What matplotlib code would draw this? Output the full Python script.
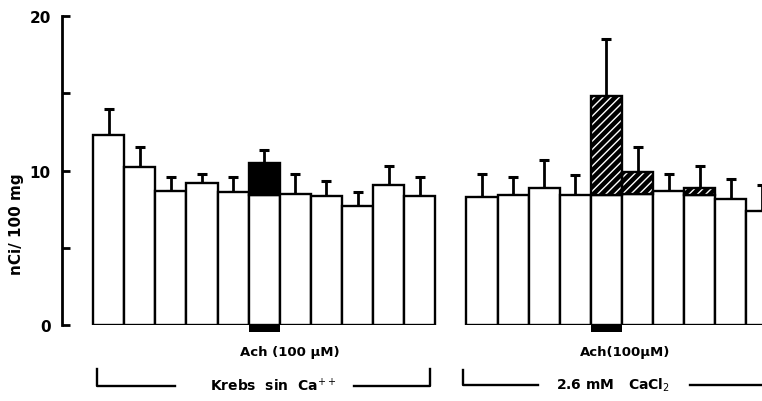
import numpy as np
import matplotlib.pyplot as plt

# Krebs sin Ca++ (11 bars), 2.6 mM CaCl2 (11 bars, last one cut off at the border)
krebs_base = [12.3, 10.2, 8.7, 9.2, 8.6, 8.4, 8.5, 8.35, 7.7, 9.05, 8.35]
krebs_extra = [0, 0, 0, 0, 0, 2.1, 0, 0, 0, 0, 0]          # black part (Ach)
krebs_err = [14.0, 11.5, 9.6, 9.8, 9.6, 11.3, 9.8, 9.3, 8.6, 10.3, 9.6]

cacl_base = [8.3, 8.4, 8.9, 8.4, 8.4, 8.5, 8.7, 8.4, 8.15, 7.4, 7.4]
cacl_extra = [0, 0, 0, 0, 6.4, 1.4, 0, 0.45, 0, 0, 0]      # hatched part (Ach)
cacl_err = [9.8, 9.6, 10.7, 9.7, 18.5, 11.5, 9.8, 10.3, 9.45, 9.05, 9.05]

yticks = [0, 5, 10, 15, 20]
ytick_labels = ['0', '', '10', '', '20']

plt.rcParams['font.family'] = 'DejaVu Sans'

fig = plt.figure(figsize=(7.62, 4.02), dpi=100)
ax = fig.add_axes([0.0814, 0.189, 0.9186, 0.7687])

x_krebs = np.arange(len(krebs_base))
x_cacl = np.arange(len(cacl_base)) + 12

lw = 1.7
for x, base, extra, err in zip(x_krebs, krebs_base, krebs_extra, krebs_err):
    ax.bar(x, base, width=1, align='edge', facecolor='white', edgecolor='black', linewidth=lw, zorder=2)
    if extra > 0:
        ax.bar(x, extra, bottom=base, width=1, align='edge', facecolor='black', edgecolor='black', linewidth=lw, zorder=2)
    top = base + extra
    ax.errorbar(x + 0.5, top, yerr=[[0], [err - top]], fmt='none', ecolor='black', elinewidth=2, capsize=3.8, capthick=2.2, zorder=1)

for x, base, extra, err in zip(x_cacl, cacl_base, cacl_extra, cacl_err):
    ax.bar(x, base, width=1, align='edge', facecolor='white', edgecolor='black', linewidth=lw, zorder=2)
    if extra > 0:
        # white hatch lines on black
        ax.bar(x, extra, bottom=base, width=1, align='edge', facecolor='black', edgecolor='white', hatch='////', linewidth=0, zorder=2)
        ax.bar(x, extra, bottom=base, width=1, align='edge', facecolor='none', edgecolor='black', linewidth=lw, zorder=3)
    top = base + extra
    ax.errorbar(x + 0.5, top, yerr=[[0], [err - top]], fmt='none', ecolor='black', elinewidth=2, capsize=3.8, capthick=2.2, zorder=1)

# Ach application markers under the axis
ax.bar(5, -0.45, width=1, align='edge', color='black', clip_on=False)
ax.bar(16, -0.45, width=1, align='edge', color='black', clip_on=False)

ax.set_xlim(-1, 21.5)
ax.set_ylim(0, 20)
for s in ['top', 'right', 'bottom']:
    ax.spines[s].set_visible(False)
ax.spines['left'].set_linewidth(2)
ax.set_xticks([])
ax.set_yticks(yticks)
ax.set_yticklabels(ytick_labels, fontsize=11, fontweight='bold')
ax.tick_params(axis='y', direction='in', length=6, width=2, pad=8)
ax.set_ylabel('nCi/ 100 mg', fontsize=11, fontweight='bold')
ax.yaxis.set_label_coords(-0.055, 0.33)

ax.text(6.33, -1.7, 'Ach (100 μM)', ha='center', va='center', fontsize=9.5, fontweight='bold', clip_on=False)
ax.text(17.1, -1.7, 'Ach(100μM)', ha='center', va='center', fontsize=9.5, fontweight='bold', clip_on=False)

# group brackets
ax.plot([0.13, 0.13, 2.64], [-2.85, -3.95, -3.95], color='black', lw=1.7, clip_on=False)
ax.plot([8.4, 10.84, 10.84], [-3.95, -3.95, -2.85], color='black', lw=1.7, clip_on=False)
ax.text(5.8, -3.85, 'Krebs  sin  Ca$^{++}$', ha='center', va='center', fontsize=10, fontweight='bold', clip_on=False)

ax.plot([11.9, 11.9, 14.3], [-2.9, -3.85, -3.85], color='black', lw=1.7, clip_on=False)
ax.plot([19.2, 21.6], [-3.85, -3.85], color='black', lw=1.7, clip_on=False)
ax.text(16.7, -3.85, '2.6 mM   CaCl$_2$', ha='center', va='center', fontsize=10, fontweight='bold', clip_on=False)

fig.savefig('out.png', dpi=100)
